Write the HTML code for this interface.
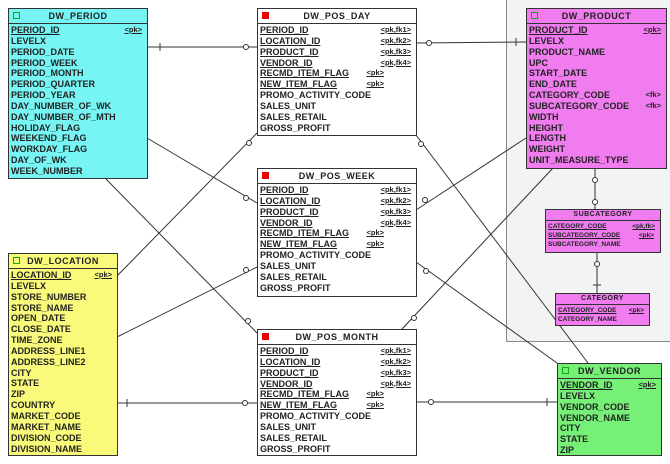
<!DOCTYPE html>
<html><head><meta charset="utf-8"><style>
body{margin:0;width:670px;height:464px;background:#fff;position:relative;overflow:hidden;font-family:"Liberation Sans",sans-serif;}
.panel{position:absolute;left:506px;top:-2px;width:170px;height:342px;background:#f2f4f3;border:1px solid #888;}
.t{position:absolute;border:1.5px solid #333;box-sizing:border-box;font-size:9px;font-weight:bold;color:#222;}
.t .h{height:14px;border-bottom:1.5px solid #333;text-align:center;line-height:14px;letter-spacing:.5px;position:relative;}
.t .h i{position:absolute;left:4px;top:3px;width:5px;height:5px;border:1px solid #1a1;background:transparent;}
.t .h i.r{background:#e00;border-color:#e00;}
.t .b{padding:1px 2px;}
.t .r0{height:10.85px;line-height:10.85px;white-space:nowrap;position:relative;}
.u{text-decoration:underline;}
.k{position:absolute;right:3px;top:0;font-size:7.5px;text-decoration:underline;}
.s .h{height:10px;line-height:10px;font-size:7px;}
.s .r0{height:9px;line-height:9px;font-size:6.5px;}
.s .k{font-size:6.5px;}
svg{position:absolute;left:0;top:0;}
</style></head><body>
<div class="panel"></div>
<svg width="670" height="464" stroke="#333" stroke-width="1" fill="none">
<line x1="147" y1="47" x2="257" y2="47"/><line x1="160" y1="43" x2="160" y2="51"/><circle cx="246" cy="47" r="2.5" fill="#fff"/>
<line x1="147" y1="138" x2="257" y2="203"/><circle cx="246" cy="198" r="2.5" fill="#fff"/>
<line x1="105" y1="178" x2="257" y2="333"/><circle cx="248" cy="321" r="2.5" fill="#fff"/>
<line x1="117" y1="276" x2="257" y2="133"/><circle cx="249" cy="143" r="2.5" fill="#fff"/>
<line x1="117" y1="337" x2="257" y2="267"/><circle cx="246" cy="270" r="2.5" fill="#fff"/>
<line x1="117" y1="403" x2="257" y2="403"/><line x1="127" y1="399" x2="127" y2="407"/><circle cx="245" cy="403" r="2.5" fill="#fff"/>
<line x1="416" y1="43" x2="526" y2="42"/><line x1="516" y1="38" x2="516" y2="46"/><circle cx="429" cy="43" r="2.5" fill="#fff"/>
<line x1="416" y1="135" x2="588" y2="363"/><circle cx="421" cy="144" r="2.5" fill="#fff"/>
<line x1="526" y1="138" x2="416" y2="210"/><circle cx="425" cy="200" r="2.5" fill="#fff"/>
<line x1="553" y1="168" x2="402" y2="329"/><circle cx="414" cy="318" r="2.5" fill="#fff"/>
<line x1="416" y1="262" x2="557" y2="363"/><circle cx="426" cy="271" r="2.5" fill="#fff"/>
<line x1="416" y1="402" x2="557" y2="402"/><line x1="547" y1="398" x2="547" y2="406"/><circle cx="431" cy="402" r="2.5" fill="#fff"/>
<line x1="595" y1="168" x2="595" y2="209"/><circle cx="595" cy="180" r="2.5" fill="#fff"/><circle cx="595" cy="202" r="2.5" fill="#fff"/>
<line x1="597" y1="252" x2="597" y2="293"/><circle cx="597" cy="264" r="2.5" fill="#fff"/><line x1="593" y1="285" x2="601" y2="285"/>
</svg>
<div class="t" style="left:8px;top:8px;width:140px;height:171px;background:#77f4f4"><div class="h"><i></i>DW_PERIOD</div><div class="b">
<div class="r0 u">PERIOD_ID<span class="k">&lt;pk&gt;</span></div><div class="r0">LEVELX</div><div class="r0">PERIOD_DATE</div><div class="r0">PERIOD_WEEK</div><div class="r0">PERIOD_MONTH</div><div class="r0">PERIOD_QUARTER</div><div class="r0">PERIOD_YEAR</div><div class="r0">DAY_NUMBER_OF_WK</div><div class="r0">DAY_NUMBER_OF_MTH</div><div class="r0">HOLIDAY_FLAG</div><div class="r0">WEEKEND_FLAG</div><div class="r0">WORKDAY_FLAG</div><div class="r0">DAY_OF_WK</div><div class="r0">WEEK_NUMBER</div></div></div>
<div class="t" style="left:8px;top:253px;width:110px;height:203px;background:#fafa7a"><div class="h"><i></i>DW_LOCATION</div><div class="b">
<div class="r0 u">LOCATION_ID<span class="k">&lt;pk&gt;</span></div><div class="r0">LEVELX</div><div class="r0">STORE_NUMBER</div><div class="r0">STORE_NAME</div><div class="r0">OPEN_DATE</div><div class="r0">CLOSE_DATE</div><div class="r0">TIME_ZONE</div><div class="r0">ADDRESS_LINE1</div><div class="r0">ADDRESS_LINE2</div><div class="r0">CITY</div><div class="r0">STATE</div><div class="r0">ZIP</div><div class="r0">COUNTRY</div><div class="r0">MARKET_CODE</div><div class="r0">MARKET_NAME</div><div class="r0">DIVISION_CODE</div><div class="r0">DIVISION_NAME</div></div></div>
<div class="t" style="left:257px;top:8px;width:160px;height:128px;background:#fff"><div class="h"><i class="r"></i>DW_POS_DAY</div><div class="b">
<div class="r0 u">PERIOD_ID<span class="k">&lt;pk,fk1&gt;</span></div><div class="r0 u">LOCATION_ID<span class="k">&lt;pk,fk2&gt;</span></div><div class="r0 u">PRODUCT_ID<span class="k">&lt;pk,fk3&gt;</span></div><div class="r0 u">VENDOR_ID<span class="k">&lt;pk,fk4&gt;</span></div><div class="r0 u">RECMD_ITEM_FLAG<span class="k" style="right:30px">&lt;pk&gt;</span></div><div class="r0 u">NEW_ITEM_FLAG<span class="k" style="right:30px">&lt;pk&gt;</span></div><div class="r0">PROMO_ACTIVITY_CODE</div><div class="r0">SALES_UNIT</div><div class="r0">SALES_RETAIL</div><div class="r0">GROSS_PROFIT</div></div></div>
<div class="t" style="left:257px;top:168px;width:160px;height:129px;background:#fff"><div class="h"><i class="r"></i>DW_POS_WEEK</div><div class="b">
<div class="r0 u">PERIOD_ID<span class="k">&lt;pk,fk1&gt;</span></div><div class="r0 u">LOCATION_ID<span class="k">&lt;pk,fk2&gt;</span></div><div class="r0 u">PRODUCT_ID<span class="k">&lt;pk,fk3&gt;</span></div><div class="r0 u">VENDOR_ID<span class="k">&lt;pk,fk4&gt;</span></div><div class="r0 u">RECMD_ITEM_FLAG<span class="k" style="right:30px">&lt;pk&gt;</span></div><div class="r0 u">NEW_ITEM_FLAG<span class="k" style="right:30px">&lt;pk&gt;</span></div><div class="r0">PROMO_ACTIVITY_CODE</div><div class="r0">SALES_UNIT</div><div class="r0">SALES_RETAIL</div><div class="r0">GROSS_PROFIT</div></div></div>
<div class="t" style="left:257px;top:329px;width:160px;height:127px;background:#fff"><div class="h"><i class="r"></i>DW_POS_MONTH</div><div class="b">
<div class="r0 u">PERIOD_ID<span class="k">&lt;pk,fk1&gt;</span></div><div class="r0 u">LOCATION_ID<span class="k">&lt;pk,fk2&gt;</span></div><div class="r0 u">PRODUCT_ID<span class="k">&lt;pk,fk3&gt;</span></div><div class="r0 u">VENDOR_ID<span class="k">&lt;pk,fk4&gt;</span></div><div class="r0 u">RECMD_ITEM_FLAG<span class="k" style="right:30px">&lt;pk&gt;</span></div><div class="r0 u">NEW_ITEM_FLAG<span class="k" style="right:30px">&lt;pk&gt;</span></div><div class="r0">PROMO_ACTIVITY_CODE</div><div class="r0">SALES_UNIT</div><div class="r0">SALES_RETAIL</div><div class="r0">GROSS_PROFIT</div></div></div>
<div class="t" style="left:526px;top:8px;width:141px;height:161px;background:#f07cf0"><div class="h"><i></i>DW_PRODUCT</div><div class="b">
<div class="r0 u">PRODUCT_ID<span class="k">&lt;pk&gt;</span></div><div class="r0">LEVELX</div><div class="r0">PRODUCT_NAME</div><div class="r0">UPC</div><div class="r0">START_DATE</div><div class="r0">END_DATE</div><div class="r0">CATEGORY_CODE<span class="k" style="text-decoration:none">&lt;fk&gt;</span></div><div class="r0">SUBCATEGORY_CODE<span class="k" style="text-decoration:none">&lt;fk&gt;</span></div><div class="r0">WIDTH</div><div class="r0">HEIGHT</div><div class="r0">LENGTH</div><div class="r0">WEIGHT</div><div class="r0">UNIT_MEASURE_TYPE</div></div></div>
<div class="t s" style="left:545px;top:209px;width:116px;height:44px;background:#f07cf0"><div class="h">SUBCATEGORY</div><div class="b">
<div class="r0 u">CATEGORY_CODE<span class="k">&lt;pk,fk&gt;</span></div><div class="r0 u">SUBCATEGORY_CODE<span class="k" style="right:4px">&lt;pk&gt;</span></div><div class="r0">SUBCATEGORY_NAME</div></div></div>
<div class="t s" style="left:555px;top:293px;width:95px;height:33px;background:#f07cf0"><div class="h">CATEGORY</div><div class="b">
<div class="r0 u">CATEGORY_CODE<span class="k">&lt;pk&gt;</span></div><div class="r0">CATEGORY_NAME</div></div></div>
<div class="t" style="left:557px;top:363px;width:105px;height:93px;background:#77f077"><div class="h"><i></i>DW_VENDOR</div><div class="b">
<div class="r0 u">VENDOR_ID<span class="k">&lt;pk&gt;</span></div><div class="r0">LEVELX</div><div class="r0">VENDOR_CODE</div><div class="r0">VENDOR_NAME</div><div class="r0">CITY</div><div class="r0">STATE</div><div class="r0">ZIP</div></div></div>
</body></html>
